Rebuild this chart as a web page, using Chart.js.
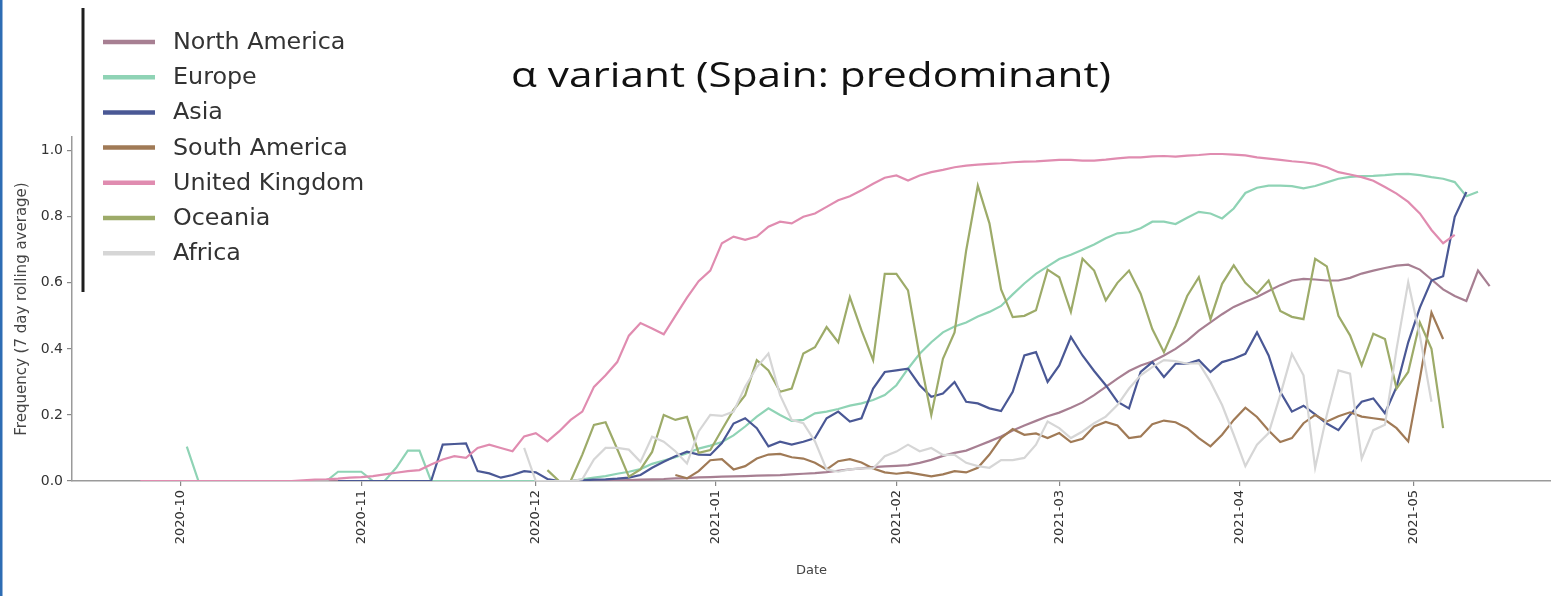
<!DOCTYPE html>
<html>
<head>
<meta charset="utf-8">
<script src="https://cdn.jsdelivr.net/npm/chart.js@4.4.1/dist/chart.umd.min.js"></script>
<style>
  html, body { margin: 0; padding: 0; background: #fff; }
  #wrap { width: 1551px; height: 596px; position: relative; }
</style>
</head>
<body>
<div id="wrap"><canvas id="chart"></canvas></div>
<script>
(function() {
    'use strict';

    // x values are days counted from 2020-10-01, sampled every 2 days starting at day -7
    const firstDay = -7;
    const dayStep = 2;

    const monthTicks = [0, 31, 61, 92, 123, 151, 182, 212];
    const monthLabels = ['2020-10', '2020-11', '2020-12', '2021-01', '2021-02', '2021-03', '2021-04', '2021-05'];
    const yTicks = [0, 0.2, 0.4, 0.6, 0.8, 1.0];

    const regions = ['North America', 'Europe', 'Asia', 'South America', 'United Kingdom', 'Oceania', 'Africa'];

    const northAmerica = [
        0, 0, 0, 0, 0, 0, 0, 0, 0, 0,
        0, 0, 0, 0, 0, 0, 0, 0, 0, 0,
        0, 0, 0, 0, 0, 0, 0, 0, 0, 0,
        0, 0, 0, 0, 0, 0, 0, 0, 0, 0,
        0, 0.002, 0.003, 0.004, 0.005, 0.006, 0.008, 0.009, 0.011, 0.012,
        0.013, 0.014, 0.015, 0.016, 0.017, 0.018, 0.02, 0.022, 0.024, 0.027,
        0.031, 0.035, 0.038, 0.042, 0.044, 0.046, 0.048, 0.055, 0.064, 0.076,
        0.085, 0.092, 0.106, 0.12, 0.135, 0.153, 0.168, 0.182, 0.196, 0.207,
        0.222, 0.238, 0.26, 0.285, 0.31, 0.333, 0.35, 0.362, 0.38, 0.4,
        0.425, 0.455, 0.48, 0.505, 0.527, 0.543, 0.557, 0.575, 0.593, 0.607,
        0.612, 0.61, 0.607, 0.607, 0.615, 0.628, 0.637, 0.645, 0.652, 0.655,
        0.64, 0.61, 0.58, 0.56, 0.545, 0.637, 0.59
    ];
    const europe = [
        null, null, null, null, 0.104, 0, 0, 0, 0, 0,
        0, 0, 0, 0, 0, 0, 0, 0.028, 0.028, 0.028,
        0, 0, 0.04, 0.092, 0.092, 0, 0, 0, 0, 0,
        0, 0, 0, 0, 0, 0, 0, 0, 0.005, 0.01,
        0.015, 0.022, 0.028, 0.036, 0.052, 0.062, 0.072, 0.084, 0.098, 0.107,
        0.118, 0.138, 0.165, 0.195, 0.22, 0.2, 0.182, 0.185, 0.205, 0.21,
        0.218, 0.228, 0.235, 0.245, 0.26, 0.29, 0.34, 0.385, 0.42, 0.45,
        0.468, 0.48, 0.498, 0.512, 0.53, 0.565, 0.598, 0.627, 0.65, 0.672,
        0.685, 0.7, 0.716, 0.735, 0.75, 0.753, 0.765, 0.785, 0.785, 0.778,
        0.797, 0.815, 0.81, 0.795, 0.825, 0.872, 0.888, 0.894, 0.894, 0.893,
        0.886, 0.893, 0.904, 0.915, 0.921, 0.923, 0.924, 0.926, 0.929, 0.93,
        0.926, 0.92, 0.915, 0.905, 0.862, 0.876, null
    ];
    const asia = [
        null, null, null, null, null, null, null, null, null, null,
        null, null, null, null, null, null, null, 0, 0, 0,
        0, 0, 0, 0, 0, 0, 0.11, 0.112, 0.114, 0.03,
        0.023, 0.01, 0.018, 0.03, 0.026, 0.006, 0, 0, 0.002, 0.004,
        0.005, 0.007, 0.01, 0.018, 0.04, 0.058, 0.075, 0.089, 0.08, 0.079,
        0.115, 0.174, 0.19, 0.16, 0.105, 0.119, 0.11, 0.119, 0.13, 0.19,
        0.21, 0.18, 0.19, 0.28, 0.33, 0.335, 0.34, 0.29, 0.255, 0.265,
        0.3, 0.24, 0.235, 0.22, 0.212, 0.27, 0.38, 0.39, 0.3, 0.35,
        0.436, 0.38, 0.333, 0.29, 0.24, 0.22, 0.33, 0.36, 0.315, 0.355,
        0.355, 0.366, 0.33, 0.36, 0.37, 0.385, 0.45, 0.38, 0.27, 0.21,
        0.228, 0.202, 0.174, 0.154, 0.2, 0.24, 0.25, 0.205, 0.285, 0.42,
        0.525, 0.607, 0.62, 0.8, 0.875, null, null
    ];
    const southAmerica = [
        null, null, null, null, null, null, null, null, null, null,
        null, null, null, null, null, null, null, null, null, null,
        null, null, null, null, null, null, null, null, null, null,
        null, null, null, null, null, null, null, null, null, null,
        null, null, null, null, null, null, 0.018, 0.008, 0.03, 0.063,
        0.066, 0.035, 0.045, 0.068, 0.08, 0.082, 0.072, 0.068, 0.055, 0.035,
        0.06, 0.066, 0.056, 0.038, 0.026, 0.022, 0.026, 0.02, 0.014, 0.02,
        0.03, 0.026, 0.04, 0.08, 0.13, 0.157, 0.14, 0.144, 0.13, 0.145,
        0.118, 0.128, 0.165, 0.179, 0.168, 0.13, 0.135, 0.172, 0.183, 0.178,
        0.16, 0.13, 0.105, 0.14, 0.185, 0.222, 0.194, 0.153, 0.118, 0.13,
        0.175, 0.2, 0.18, 0.196, 0.208, 0.195, 0.19, 0.185, 0.16, 0.12,
        0.31, 0.51, 0.43, null, null, null, null
    ];
    const unitedKingdom = [
        0, 0, 0, 0, 0, 0, 0, 0, 0, 0,
        0, 0, 0, 0, 0.002, 0.004, 0.005, 0.007, 0.01, 0.012,
        0.015, 0.02, 0.025, 0.03, 0.033, 0.05, 0.065, 0.075, 0.07, 0.1,
        0.11, 0.1, 0.09, 0.135, 0.145, 0.12, 0.15, 0.185, 0.21, 0.285,
        0.32, 0.36, 0.44, 0.478, 0.462, 0.444, 0.5, 0.555, 0.605, 0.637,
        0.72, 0.74, 0.73, 0.74, 0.77, 0.785, 0.78, 0.8, 0.81, 0.83,
        0.85, 0.862, 0.88, 0.9, 0.918, 0.925, 0.91, 0.925, 0.935, 0.942,
        0.95, 0.955, 0.958, 0.96, 0.962, 0.965, 0.967, 0.968, 0.97, 0.972,
        0.972, 0.97, 0.97, 0.973, 0.977, 0.98, 0.98, 0.983, 0.984, 0.982,
        0.985, 0.987, 0.99, 0.99, 0.988, 0.986, 0.98, 0.976, 0.972, 0.968,
        0.965, 0.96, 0.95, 0.935, 0.928, 0.92, 0.909, 0.89, 0.87, 0.845,
        0.81, 0.76, 0.72, 0.745, null, null, null
    ];
    const oceania = [
        null, null, null, null, null, null, null, null, null, null,
        null, null, null, null, null, null, null, null, null, null,
        null, null, null, null, null, null, null, null, null, null,
        null, null, null, null, null, 0.033, 0, 0, 0.08, 0.17,
        0.178, 0.097, 0.013, 0.035, 0.088, 0.2, 0.185, 0.194, 0.085, 0.094,
        0.155, 0.215, 0.26, 0.366, 0.335, 0.27, 0.28, 0.386, 0.405, 0.466,
        0.42, 0.557, 0.456, 0.366, 0.627, 0.627, 0.577, 0.376, 0.2, 0.37,
        0.45, 0.698, 0.894, 0.78, 0.58, 0.496, 0.5, 0.517, 0.64, 0.617,
        0.512, 0.673, 0.637, 0.547, 0.6, 0.637, 0.567, 0.46, 0.39, 0.47,
        0.56, 0.617, 0.49, 0.597, 0.653, 0.6, 0.567, 0.607, 0.515, 0.497,
        0.49, 0.673, 0.65, 0.5, 0.441, 0.35, 0.446, 0.43, 0.28, 0.33,
        0.48, 0.4, 0.16, null, null, null, null
    ];
    const africa = [
        null, null, null, null, null, null, null, null, null, null,
        null, null, null, null, null, null, null, null, null, null,
        null, null, null, null, null, null, null, null, null, null,
        null, null, null, 0.1, 0, 0, 0, 0, 0.005, 0.065,
        0.1, 0.1, 0.095, 0.058, 0.134, 0.119, 0.09, 0.053, 0.15, 0.2,
        0.197, 0.21, 0.285, 0.345, 0.386, 0.26, 0.185, 0.175, 0.12, 0.035,
        0.028, 0.035, 0.038, 0.038, 0.075, 0.089, 0.11, 0.09, 0.1, 0.079,
        0.079, 0.055, 0.045, 0.04, 0.063, 0.063, 0.07, 0.11, 0.18, 0.16,
        0.13, 0.15, 0.175, 0.195, 0.23, 0.28, 0.32, 0.345, 0.366, 0.363,
        0.355, 0.357, 0.3, 0.23, 0.14, 0.045, 0.11, 0.145, 0.26, 0.385,
        0.32, 0.04, 0.2, 0.335, 0.325, 0.068, 0.154, 0.17, 0.4, 0.602,
        0.44, 0.24, null, null, null, null, null
    ];

    const seriesValues = [northAmerica, europe, asia, southAmerica, unitedKingdom, oceania, africa];
    const colors = ['#a77f92', '#8fd3b5', '#4a5895', '#a07a56', '#e08cb0', '#9dab69', '#d6d6d6'];

    // draws text so that it fills the given width (the source figure is stretched sideways)
    function fillStretched(ctx, text, x, y, width) {
        const w = ctx.measureText(text).width;
        ctx.save();
        ctx.translate(x, y);
        ctx.scale(width / w, 1);
        ctx.fillText(text, 0, 0);
        ctx.restore();
    }

    const decorPlugin = {
        id: 'decor',
        afterDraw(chart) {
            const ctx = chart.ctx;
            ctx.save();

            // slide edge
            ctx.fillStyle = '#2e6db4';
            ctx.fillRect(0, 0, 2.5, chart.height);

            // dark bar left of the legend
            ctx.fillStyle = '#1e1e1e';
            ctx.fillRect(81.5, 8, 3, 284);

            // title
            ctx.fillStyle = '#111';
            ctx.font = '35px "Open Sans"';
            ctx.textAlign = 'left';
            ctx.textBaseline = 'middle';
            fillStretched(ctx, '\u03b1 variant (Spain: predominant)', 511, 77, 600);

            // legend
            ctx.font = '23px "DejaVu Sans"';
            chart.data.datasets.forEach((ds, i) => {
                const y = 42 + i * 35.2;
                ctx.strokeStyle = ds.borderColor;
                ctx.lineWidth = 4.5;
                ctx.beginPath();
                ctx.moveTo(103, y);
                ctx.lineTo(155, y);
                ctx.stroke();
                ctx.fillStyle = '#333';
                const w = ctx.measureText(ds.label).width;
                fillStretched(ctx, ds.label, 173, y + 1, w * 1.035);
            });
            ctx.restore();
        }
    };

    const ctx = document.getElementById('chart');
    new Chart(ctx, {
        type: 'line',
        data: {
            datasets: regions.map((name, k) => ({
                label: name,
                data: seriesValues[k]
                    .map((v, i) => (v === null ? null : { x: firstDay + i * dayStep, y: v }))
                    .filter(p => p !== null),
                borderColor: colors[k],
                backgroundColor: colors[k],
                borderWidth: 2.2,
                pointRadius: 0,
                tension: 0,
                fill: false,
                order: regions.length - 1 - k
            }))
        },
        options: {
            responsive: true,
            maintainAspectRatio: false,
            animation: false,
            layout: { padding: { top: 137, left: 0, right: 0, bottom: 0 } },
            plugins: { legend: { display: false }, tooltip: { enabled: false } },
            scales: {
                x: {
                    type: 'linear',
                    min: -18.74,
                    max: 235.55,
                    afterBuildTicks: s => { s.ticks = monthTicks.map(v => ({ value: v })); },
                    afterFit: s => { s.height = 115; },
                    ticks: {
                        callback: v => monthLabels[monthTicks.indexOf(v)],
                        autoSkip: false,
                        minRotation: 90,
                        maxRotation: 90,
                        padding: 4,
                        color: '#333',
                        font: { family: 'DejaVu Sans', size: 13 }
                    },
                    grid: { drawOnChartArea: false, drawTicks: true, tickLength: 5, color: '#888', lineWidth: 1.2 },
                    border: { display: true, color: '#9a9a9a', width: 1.5 },
                    title: {
                        display: true,
                        text: 'Date',
                        color: '#444',
                        font: { family: 'DejaVu Sans', size: 13 },
                        padding: { top: 0, bottom: 18 }
                    }
                },
                y: {
                    min: 0,
                    max: 1.0415,
                    afterBuildTicks: s => { s.ticks = yTicks.map(v => ({ value: v })); },
                    afterFit: s => { s.width = 72; },
                    ticks: {
                        callback: v => v.toFixed(1),
                        padding: 4,
                        color: '#333',
                        font: { family: 'DejaVu Sans', size: 14 }
                    },
                    grid: { drawOnChartArea: false, drawTicks: true, tickLength: 5, color: '#888', lineWidth: 1.2 },
                    border: { display: true, color: '#9a9a9a', width: 1.5 },
                    title: {
                        display: true,
                        text: 'Frequency (7 day rolling average)',
                        color: '#444',
                        font: { family: 'DejaVu Sans', size: 15 },
                        padding: { top: 13, bottom: 0 }
                    }
                }
            }
        },
        plugins: [decorPlugin]
    });
})();
</script>
</body>
</html>
